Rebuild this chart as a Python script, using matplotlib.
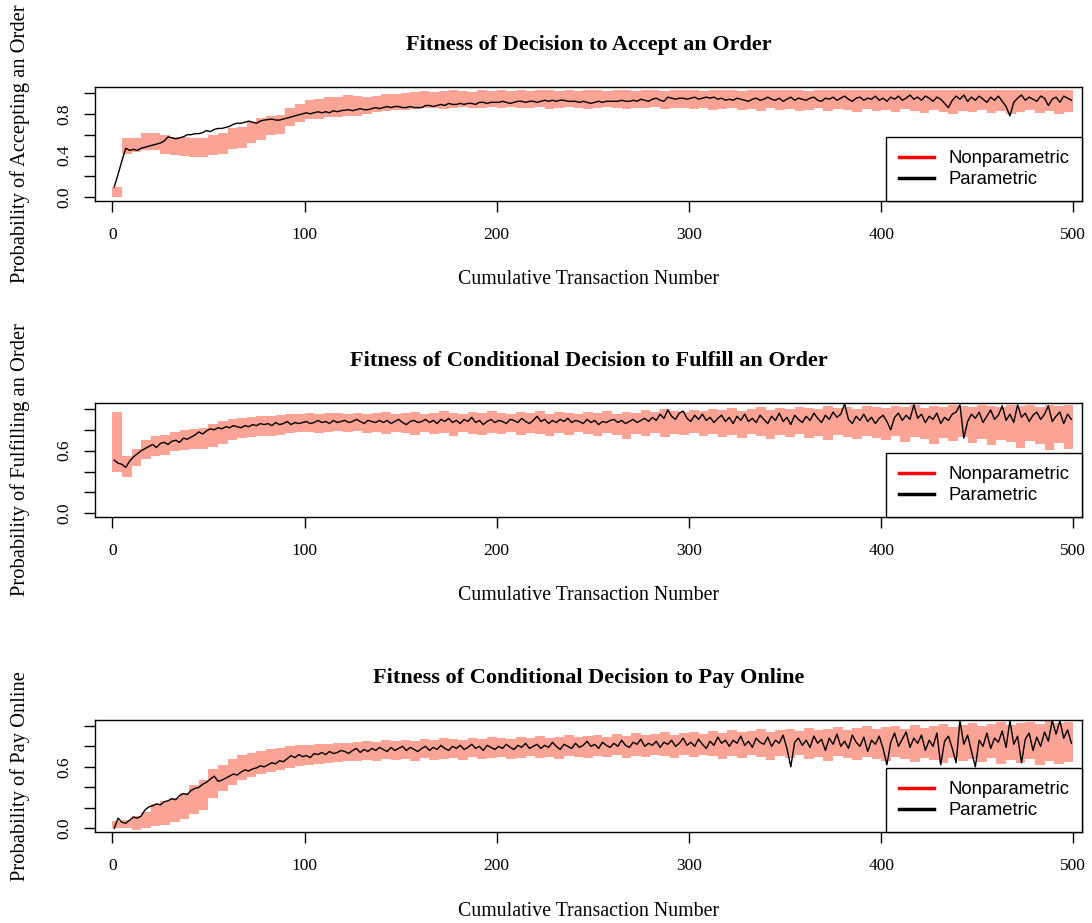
import numpy as np
import matplotlib
matplotlib.use("Agg")
import matplotlib.pyplot as plt
from matplotlib.lines import Line2D

# ---------------- data ----------------
titles = ["Fitness of Decision to Accept an Order",
          "Fitness of Conditional Decision to Fulfill an Order",
          "Fitness of Conditional Decision to Pay Online"]
ylabels = ["Probability of Accepting an Order",
           "Probability of Fulfilling an Order",
           "Probability of Pay Online"]
xlabel = "Cumulative Transaction Number"
legend_labels = ["Nonparametric", "Parametric"]
xticks = [0, 100, 200, 300, 400, 500]
yticks = [0.0, 0.2, 0.4, 0.6, 0.8, 1.0]
ytick_labels = [["0.0", "", "0.4", "", "0.8", ""],
                ["0.0", "", "", "0.6", "", ""],
                ["0.0", "", "", "0.6", "", ""]]

# parametric fitness, read at transactions 1,3,5,...,499
param_accept = [
    0.10, 0.22, 0.35, 0.47, 0.45, 0.46, 0.45, 0.47, 0.48, 0.49,
    0.50, 0.51, 0.52, 0.54, 0.58, 0.57, 0.56, 0.57, 0.58, 0.60,
    0.60, 0.61, 0.61, 0.62, 0.64, 0.63, 0.65, 0.66, 0.66, 0.67,
    0.68, 0.70, 0.71, 0.71, 0.72, 0.73, 0.72, 0.71, 0.73, 0.74,
    0.745, 0.75, 0.74, 0.74, 0.75, 0.76, 0.77, 0.78, 0.79, 0.80,
    0.81, 0.80, 0.81, 0.82, 0.81, 0.82, 0.81, 0.83, 0.82, 0.83,
    0.835, 0.84, 0.83, 0.84, 0.85, 0.84, 0.84, 0.85, 0.86, 0.85,
    0.86, 0.87, 0.86, 0.87, 0.87, 0.86, 0.86, 0.87, 0.86, 0.86,
    0.86, 0.88, 0.88, 0.87, 0.88, 0.89, 0.88, 0.90, 0.89, 0.89,
    0.90, 0.89, 0.90, 0.90, 0.89, 0.91, 0.91, 0.90, 0.91, 0.91,
    0.91, 0.92, 0.91, 0.90, 0.91, 0.92, 0.92, 0.91, 0.92, 0.92,
    0.91, 0.92, 0.93, 0.92, 0.93, 0.92, 0.93, 0.93, 0.92, 0.92,
    0.92, 0.91, 0.92, 0.91, 0.90, 0.91, 0.92, 0.91, 0.92, 0.92,
    0.92, 0.92, 0.93, 0.92, 0.92, 0.93, 0.92, 0.94, 0.93, 0.92,
    0.94, 0.95, 0.93, 0.92, 0.96, 0.95, 0.94, 0.95, 0.95, 0.94,
    0.95, 0.96, 0.94, 0.95, 0.96, 0.95, 0.96, 0.94, 0.95, 0.93,
    0.94, 0.93, 0.95, 0.94, 0.93, 0.92, 0.94, 0.95, 0.93, 0.94,
    0.96, 0.94, 0.93, 0.95, 0.92, 0.94, 0.96, 0.93, 0.95, 0.94,
    0.93, 0.95, 0.96, 0.93, 0.92, 0.95, 0.94, 0.96, 0.93, 0.95,
    0.97, 0.94, 0.92, 0.95, 0.96, 0.93, 0.95, 0.94, 0.97, 0.93,
    0.95, 0.92, 0.96, 0.94, 0.97, 0.93, 0.95, 0.98, 0.94, 0.96,
    0.93, 0.97, 0.95, 0.92, 0.96, 0.94, 0.90, 0.86, 0.93, 0.97,
    0.94, 0.98, 0.92, 0.96, 0.93, 0.97, 0.94, 0.91, 0.96, 0.93,
    0.97, 0.92, 0.87, 0.78, 0.91, 0.95, 0.98, 0.93, 0.96, 0.94,
    0.92, 0.97, 0.95, 0.88, 0.94, 0.96, 0.91, 0.97, 0.95, 0.93]

param_fulfill = [
    0.51, 0.48, 0.47, 0.44, 0.50, 0.54, 0.57, 0.60, 0.62, 0.64,
    0.66, 0.63, 0.67, 0.68, 0.66, 0.69, 0.70, 0.68, 0.72, 0.71,
    0.73, 0.75, 0.78, 0.76, 0.79, 0.81, 0.80, 0.82, 0.81, 0.83,
    0.82, 0.84, 0.83, 0.82, 0.84, 0.83, 0.85, 0.84, 0.86, 0.85,
    0.86, 0.84, 0.87, 0.85, 0.86, 0.88, 0.85, 0.87, 0.86, 0.87,
    0.88, 0.86, 0.87, 0.89, 0.87, 0.88, 0.86, 0.89, 0.87, 0.88,
    0.89, 0.87, 0.88, 0.90, 0.88, 0.86, 0.89, 0.88, 0.87, 0.89,
    0.87, 0.89, 0.86, 0.88, 0.90, 0.87, 0.85, 0.88, 0.89, 0.87,
    0.88, 0.90, 0.87, 0.89, 0.86, 0.90, 0.88, 0.91, 0.87, 0.89,
    0.86, 0.90, 0.88, 0.92, 0.87, 0.89, 0.85, 0.88, 0.90, 0.87,
    0.89, 0.88, 0.86, 0.90, 0.89, 0.87, 0.91, 0.88, 0.86, 0.89,
    0.93, 0.88, 0.90, 0.86, 0.89, 0.87, 0.90, 0.88, 0.91, 0.87,
    0.89, 0.88, 0.86, 0.90, 0.87, 0.89, 0.85, 0.88, 0.87, 0.89,
    0.90, 0.87, 0.89, 0.86, 0.88, 0.90, 0.87, 0.89, 0.91, 0.88,
    0.92, 0.89, 0.95, 0.91, 0.99, 0.93, 0.90, 0.96, 0.98, 0.91,
    0.88, 0.94, 0.90, 0.95, 0.89, 0.92, 0.87, 0.91, 0.94, 0.88,
    0.92, 0.86, 0.93, 0.89, 0.95, 0.88, 0.91, 0.87, 0.94, 0.90,
    0.86, 0.93, 0.89, 0.96, 0.88, 0.92, 0.85, 0.94, 0.90, 0.87,
    0.93, 0.89, 0.96, 0.91, 0.87, 0.94, 0.90, 0.97, 0.92, 0.95,
    1.05, 0.90, 0.86, 0.93, 0.89, 0.95, 0.88, 0.92, 0.86, 0.91,
    0.94, 0.88, 0.80, 0.92, 0.96, 0.89, 0.94, 0.90, 1.04, 0.91,
    0.95, 0.87, 0.93, 0.90, 0.96, 0.86, 0.92, 0.89, 0.95, 0.97,
    1.04, 0.72, 0.88, 0.95, 0.91, 0.97, 0.87, 0.93, 0.99, 0.90,
    0.94, 1.03, 0.89, 0.95, 0.87, 1.04, 0.92, 0.96, 0.88, 0.94,
    0.97, 0.90, 0.95, 1.03, 0.88, 0.93, 0.97, 0.86, 0.95, 0.90]

param_pay = [
    0.00, 0.10, 0.06, 0.05, 0.08, 0.11, 0.10, 0.12, 0.18, 0.21,
    0.22, 0.24, 0.23, 0.26, 0.27, 0.29, 0.28, 0.32, 0.34, 0.33,
    0.37, 0.39, 0.40, 0.43, 0.45, 0.48, 0.51, 0.46, 0.47, 0.49,
    0.51, 0.53, 0.52, 0.55, 0.57, 0.56, 0.58, 0.59, 0.61, 0.60,
    0.62, 0.64, 0.63, 0.66, 0.65, 0.68, 0.71, 0.69, 0.72, 0.70,
    0.71, 0.69, 0.73, 0.72, 0.74, 0.72, 0.75, 0.73, 0.74, 0.76,
    0.75, 0.73, 0.76, 0.78, 0.74, 0.77, 0.75, 0.78, 0.76, 0.79,
    0.77, 0.75, 0.79, 0.76, 0.78, 0.80, 0.76, 0.79, 0.77, 0.75,
    0.78, 0.80, 0.76, 0.79, 0.77, 0.81, 0.78, 0.76, 0.80, 0.78,
    0.81, 0.77, 0.79, 0.82, 0.78, 0.80, 0.76, 0.81, 0.79, 0.77,
    0.80, 0.78, 0.82, 0.79, 0.77, 0.81, 0.79, 0.83, 0.78, 0.80,
    0.82, 0.78, 0.81, 0.79, 0.84, 0.80, 0.77, 0.82, 0.80, 0.78,
    0.83, 0.79, 0.81, 0.85, 0.80, 0.82, 0.78, 0.84, 0.81, 0.79,
    0.83, 0.80, 0.86, 0.81, 0.79, 0.84, 0.82, 0.87, 0.80, 0.83,
    0.81, 0.85, 0.79, 0.84, 0.82, 0.86, 0.80, 0.83, 0.88, 0.81,
    0.84, 0.80, 0.87, 0.82, 0.78, 0.85, 0.81, 0.89, 0.83, 0.86,
    0.80, 0.86, 0.83, 0.90, 0.81, 0.85, 0.79, 0.88, 0.84, 0.82,
    0.89, 0.80, 0.86, 0.83, 0.91, 0.78, 0.60, 0.84, 0.88, 0.81,
    0.86, 0.79, 0.90, 0.83, 0.87, 0.76, 0.88, 0.82, 0.92, 0.80,
    0.85, 0.78, 0.91, 0.84, 0.80, 0.89, 0.75, 0.86, 0.82, 0.90,
    0.78, 0.62, 0.84, 0.93, 0.80, 0.87, 0.94, 0.79, 0.88, 0.83,
    0.91, 0.76, 0.86, 0.80, 0.93, 0.62, 0.85, 0.90, 0.78, 0.64,
    1.05, 0.82, 0.91, 0.75, 0.60, 0.86, 0.80, 0.93, 0.78, 0.88,
    0.84, 0.95, 0.79, 1.05, 0.82, 0.90, 0.64, 0.87, 0.93, 0.76,
    0.89, 0.80, 0.94, 0.85, 1.05, 0.92, 1.05, 0.88, 0.96, 0.83]

# nonparametric bounds, one value per block of 5 transactions
np_accept_low = [
    0.00, 0.42, 0.43, 0.45, 0.45, 0.42, 0.41, 0.40, 0.39, 0.39,
    0.41, 0.42, 0.46, 0.47, 0.52, 0.55, 0.60, 0.61, 0.68, 0.72,
    0.75, 0.75, 0.77, 0.77, 0.78, 0.78, 0.80, 0.82, 0.83, 0.84,
    0.84, 0.85, 0.86, 0.86, 0.85, 0.86, 0.87, 0.86, 0.86, 0.87,
    0.86, 0.87, 0.86, 0.86, 0.87, 0.85, 0.86, 0.87, 0.86, 0.85,
    0.86, 0.87, 0.86, 0.85, 0.86, 0.86, 0.87, 0.85, 0.86, 0.86,
    0.85, 0.86, 0.84, 0.85, 0.86, 0.84, 0.85, 0.83, 0.86, 0.84,
    0.85, 0.83, 0.84, 0.86, 0.83, 0.85, 0.84, 0.82, 0.85, 0.83,
    0.84, 0.82, 0.85, 0.83, 0.81, 0.84, 0.82, 0.80, 0.83, 0.82,
    0.84, 0.81, 0.83, 0.80, 0.82, 0.84, 0.81, 0.83, 0.80, 0.82]
np_accept_high = [
    0.10, 0.57, 0.57, 0.62, 0.62, 0.60, 0.58, 0.58, 0.565, 0.565,
    0.60, 0.62, 0.66, 0.67, 0.72, 0.76, 0.78, 0.79, 0.86, 0.89,
    0.93, 0.94, 0.96, 0.96, 0.98, 0.97, 0.96, 0.97, 0.99, 0.99,
    1.00, 1.01, 1.02, 1.01, 1.02, 1.03, 1.02, 1.01, 1.03, 1.02,
    1.03, 1.02, 1.03, 1.02, 1.03, 1.03, 1.02, 1.03, 1.02, 1.03,
    1.03, 1.02, 1.03, 1.03, 1.02, 1.03, 1.03, 1.02, 1.03, 1.03,
    1.03, 1.02, 1.03, 1.03, 1.03, 1.02, 1.03, 1.03, 1.03, 1.03,
    1.03, 1.03, 1.02, 1.03, 1.03, 1.03, 1.03, 1.03, 1.03, 1.03,
    1.03, 1.03, 1.03, 1.03, 1.03, 1.03, 1.03, 1.03, 1.03, 1.03,
    1.03, 1.03, 1.03, 1.03, 1.03, 1.03, 1.03, 1.03, 1.03, 1.03]

np_fulfill_low = [
    0.40, 0.35, 0.45, 0.52, 0.55, 0.56, 0.60, 0.61, 0.62, 0.62,
    0.64, 0.66, 0.70, 0.72, 0.73, 0.74, 0.74, 0.75, 0.77, 0.78,
    0.78, 0.77, 0.78, 0.79, 0.78, 0.79, 0.77, 0.78, 0.76, 0.78,
    0.77, 0.75, 0.78, 0.76, 0.77, 0.74, 0.78, 0.76, 0.75, 0.77,
    0.76, 0.78, 0.75, 0.77, 0.76, 0.74, 0.77, 0.75, 0.78, 0.76,
    0.74, 0.77, 0.75, 0.71, 0.76, 0.74, 0.77, 0.73, 0.76, 0.75,
    0.77, 0.74, 0.76, 0.73, 0.75, 0.72, 0.76, 0.74, 0.71, 0.75,
    0.73, 0.76, 0.72, 0.74, 0.70, 0.75, 0.73, 0.71, 0.74, 0.72,
    0.70, 0.74, 0.68, 0.73, 0.71, 0.66, 0.72, 0.69, 0.73, 0.67,
    0.71, 0.65, 0.70, 0.68, 0.63, 0.69, 0.66, 0.61, 0.67, 0.62]
np_fulfill_high = [
    0.97, 0.55, 0.62, 0.70, 0.74, 0.75, 0.78, 0.80, 0.81, 0.82,
    0.86, 0.88, 0.90, 0.91, 0.92, 0.93, 0.93, 0.94, 0.95, 0.95,
    0.96, 0.95, 0.96, 0.96, 0.95, 0.96, 0.95, 0.96, 0.97, 0.95,
    0.96, 0.97, 0.95, 0.96, 0.98, 0.96, 0.95, 0.97, 0.96, 0.98,
    0.96, 0.95, 0.97, 0.96, 0.98, 0.95, 0.97, 0.96, 0.95, 0.97,
    0.96, 0.98, 0.95, 0.97, 0.96, 0.99, 0.97, 1.00, 0.98, 0.97,
    0.99, 0.98, 1.00, 0.99, 1.01, 0.98, 1.00, 1.02, 0.99, 1.01,
    1.00, 1.02, 1.01, 1.00, 1.03, 1.01, 1.02, 1.00, 1.03, 1.02,
    1.01, 1.03, 1.02, 1.04, 1.01, 1.03, 1.02, 1.04, 1.03, 1.02,
    1.04, 1.03, 1.02, 1.04, 1.03, 1.04, 1.02, 1.04, 1.03, 1.04]

np_pay_low = [
    0.00, 0.00, -0.02, 0.00, 0.02, 0.03, 0.06, 0.09, 0.14, 0.18,
    0.30, 0.36, 0.42, 0.47, 0.50, 0.53, 0.55, 0.57, 0.59, 0.61,
    0.62, 0.63, 0.64, 0.65, 0.66, 0.66, 0.67, 0.66, 0.68, 0.67,
    0.68, 0.66, 0.69, 0.67, 0.68, 0.69, 0.67, 0.70, 0.68, 0.69,
    0.70, 0.68, 0.69, 0.71, 0.69, 0.70, 0.68, 0.71, 0.70, 0.69,
    0.71, 0.70, 0.72, 0.69, 0.71, 0.70, 0.72, 0.71, 0.69, 0.72,
    0.70, 0.72, 0.71, 0.68, 0.71, 0.69, 0.72, 0.70, 0.67, 0.71,
    0.69, 0.72, 0.68, 0.70, 0.66, 0.71, 0.69, 0.67, 0.70, 0.68,
    0.66, 0.70, 0.68, 0.65, 0.69, 0.67, 0.64, 0.69, 0.66, 0.68,
    0.65, 0.69, 0.63, 0.67, 0.64, 0.68, 0.62, 0.66, 0.63, 0.65]
np_pay_high = [
    0.07, 0.08, 0.12, 0.16, 0.24, 0.27, 0.30, 0.35, 0.42, 0.47,
    0.58, 0.62, 0.68, 0.72, 0.74, 0.75, 0.77, 0.78, 0.80, 0.81,
    0.81, 0.82, 0.82, 0.83, 0.83, 0.84, 0.85, 0.84, 0.86, 0.85,
    0.86, 0.85, 0.87, 0.86, 0.88, 0.87, 0.86, 0.88, 0.87, 0.89,
    0.88, 0.87, 0.89, 0.88, 0.90, 0.88, 0.89, 0.91, 0.89, 0.90,
    0.91, 0.89, 0.92, 0.90, 0.93, 0.91, 0.92, 0.94, 0.91, 0.93,
    0.94, 0.92, 0.95, 0.93, 0.96, 0.94, 0.95, 0.97, 0.94, 0.96,
    0.97, 0.95, 0.98, 0.96, 0.97, 0.99, 0.96, 0.98, 1.00, 0.97,
    0.99, 1.00, 0.97, 1.01, 0.98, 1.00, 1.02, 0.99, 1.01, 1.03,
    1.00, 1.02, 1.04, 1.01, 1.03, 1.04, 1.02, 1.05, 1.03, 1.04]

params = [param_accept, param_fulfill, param_pay]
lows = [np_accept_low, np_fulfill_low, np_pay_low]
highs = [np_accept_high, np_fulfill_high, np_pay_high]

# ---------------- figure ----------------
W, H = 1092, 923
fig = plt.figure(figsize=(W / 100, H / 100), dpi=100)
serif = ["Liberation Serif", "DejaVu Serif"]
sans = ["Liberation Sans", "DejaVu Sans"]
band_col = "#FBA496"

# axes boxes in pixels: (left, top, right, bottom)
boxes = [(95, 87, 1082, 201), (95, 403, 1082, 517), (95, 720, 1082, 832)]

t_param = np.arange(1, 500, 2)
t_block = np.arange(0, 500, 5)

for k in range(3):
    l, t, r, b = boxes[k]
    ax = fig.add_axes([l / W, 1 - b / H, (r - l) / W, (b - t) / H])
    lo = np.array(lows[k])
    hi = np.array(highs[k])
    ax.bar(t_block, hi - lo, bottom=lo, width=5, align="edge",
           color=band_col, linewidth=0, zorder=1)
    ax.plot(t_param, params[k], color="black", lw=1.0, zorder=3)
    ax.set_xlim(-9, 504.5)
    ax.set_ylim(-0.035, 1.057)
    ax.set_xticks(xticks)
    ax.set_xticklabels([str(v) for v in xticks], fontfamily=serif, fontsize=12.5)
    ax.set_yticks(yticks)
    ax.set_yticklabels(ytick_labels[k], fontfamily=serif, fontsize=12.5,
                       rotation=90, va="center")
    ax.tick_params(axis="both", length=8, width=1, color="black", direction="out")
    ax.tick_params(axis="x", pad=11)
    ax.tick_params(axis="y", pad=8)
    for s in ax.spines.values():
        s.set_linewidth(1.0)
        s.set_color("black")
    handles = [Line2D([0], [0], color="red", lw=2.5),
               Line2D([0], [0], color="black", lw=2.5)]
    leg = ax.legend(handles, legend_labels, loc="lower right",
                    borderaxespad=0, fancybox=False, framealpha=1,
                    edgecolor="black", handlelength=1.9, handletextpad=0.75,
                    borderpad=0.7, labelspacing=0.22,
                    prop={"family": sans, "size": 13.3})
    leg.get_frame().set_linewidth(1.0)
    leg.set_zorder(5)

    cx = (l + r) / 2
    fig.text(cx / W, 1 - (t - 42) / H, titles[k], ha="center", va="center",
             fontfamily=serif, fontweight="bold", fontsize=16)
    fig.text(cx / W, 1 - (b + 79) / H, xlabel, ha="center", va="center",
             fontfamily=serif, fontsize=14.3)
    fig.text(20 / W, 1 - ((t + b) / 2) / H, ylabels[k], ha="center",
             va="center", rotation=90, fontfamily=serif, fontsize=14.8)

fig.savefig("out.png", dpi=100)
